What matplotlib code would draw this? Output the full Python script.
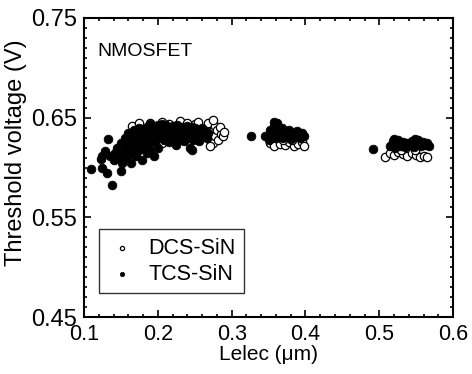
import matplotlib
matplotlib.use("Agg")
import matplotlib.pyplot as plt
from matplotlib.ticker import MultipleLocator

plt.rcParams['font.family'] = ['Liberation Sans', 'DejaVu Sans']

# TCS-SiN (filled)
tcs_x = [0.109, 0.124, 0.131, 0.138, 0.123, 0.129, 0.132, 0.150, 0.125, 0.135, 0.140,
         0.142, 0.145, 0.148, 0.150, 0.152, 0.153, 0.155, 0.157, 0.158, 0.160, 0.160,
         0.162, 0.163, 0.165, 0.166, 0.168, 0.170, 0.170, 0.172, 0.174, 0.175, 0.177,
         0.178, 0.180, 0.180,
         0.183, 0.185, 0.186, 0.188, 0.190, 0.191, 0.193, 0.195, 0.196, 0.198, 0.200,
         0.201, 0.203, 0.205, 0.206, 0.208, 0.210, 0.211, 0.213, 0.215, 0.216, 0.218,
         0.220, 0.221, 0.223, 0.225, 0.226, 0.228, 0.230, 0.231, 0.233, 0.235, 0.236,
         0.238, 0.240, 0.241, 0.243, 0.245, 0.246, 0.248, 0.250, 0.251, 0.253, 0.255,
         0.256, 0.258, 0.260, 0.262, 0.264, 0.266, 0.268,
         0.185, 0.190, 0.195, 0.200, 0.215, 0.225, 0.243, 0.246,
         0.326,
         0.345, 0.350, 0.352, 0.355, 0.358, 0.360, 0.362, 0.365, 0.368, 0.370, 0.372,
         0.375, 0.378, 0.380, 0.383, 0.385, 0.388, 0.390, 0.393, 0.395, 0.398, 0.357, 0.362,
         0.491,
         0.515, 0.518, 0.521, 0.523, 0.526, 0.529, 0.532, 0.535, 0.538, 0.541, 0.544,
         0.547, 0.550, 0.553, 0.556, 0.559, 0.562, 0.565, 0.568, 0.520, 0.548]
tcs_y = [0.599, 0.600, 0.595, 0.583, 0.609, 0.617, 0.629, 0.597, 0.612, 0.612, 0.608,
         0.615, 0.620, 0.610, 0.625, 0.605, 0.615, 0.630, 0.620, 0.610, 0.635, 0.625,
         0.615, 0.605, 0.630, 0.620, 0.638, 0.612, 0.625, 0.632, 0.618, 0.640, 0.628,
         0.608, 0.622, 0.636,
         0.630, 0.641, 0.624, 0.636, 0.644, 0.628, 0.634, 0.641, 0.626, 0.637, 0.643,
         0.630, 0.639, 0.634, 0.644, 0.628, 0.638, 0.643, 0.632, 0.640, 0.629, 0.636,
         0.642, 0.631, 0.638, 0.634, 0.643, 0.628, 0.637, 0.641, 0.632, 0.639, 0.627,
         0.635, 0.642, 0.630, 0.637, 0.633, 0.641, 0.628, 0.636, 0.640, 0.631, 0.638,
         0.627, 0.635, 0.640, 0.632, 0.637, 0.630, 0.635,
         0.615, 0.618, 0.612, 0.620, 0.626, 0.623, 0.620, 0.618,
         0.632,
         0.632, 0.628, 0.638, 0.634, 0.642, 0.630, 0.637, 0.633, 0.640, 0.630, 0.636,
         0.632, 0.638, 0.629, 0.635, 0.631, 0.637, 0.633, 0.630, 0.635, 0.632, 0.646, 0.645,
         0.619,
         0.622, 0.627, 0.620, 0.625, 0.628, 0.622, 0.626, 0.621, 0.625, 0.623, 0.627,
         0.621, 0.625, 0.628, 0.622, 0.626, 0.623, 0.625, 0.622, 0.629, 0.629]

# DCS-SiN (open)
dcs_x = [0.262, 0.265, 0.268, 0.270, 0.272, 0.275, 0.277, 0.278, 0.280, 0.282, 0.285,
         0.288, 0.275, 0.270, 0.284, 0.290,
         0.190, 0.205, 0.215, 0.230, 0.240, 0.250, 0.255,
         0.149, 0.165, 0.175, 0.199, 0.205, 0.160,
         0.352, 0.358, 0.365, 0.372, 0.378, 0.385, 0.390, 0.395, 0.398, 0.370, 0.382,
         0.508, 0.515, 0.520, 0.526, 0.532, 0.538, 0.544, 0.550, 0.555, 0.560, 0.565,
         0.530, 0.548]
dcs_y = [0.632, 0.640, 0.645, 0.628, 0.636, 0.625, 0.642, 0.632, 0.638, 0.628, 0.634,
         0.632, 0.648, 0.622, 0.641, 0.636,
         0.645, 0.646, 0.644, 0.647, 0.645, 0.644, 0.646,
         0.618, 0.642, 0.645, 0.625, 0.625, 0.614,
         0.625, 0.622, 0.624, 0.623, 0.626, 0.622, 0.624, 0.626, 0.622, 0.628, 0.628,
         0.611, 0.615, 0.613, 0.616, 0.614, 0.612, 0.615, 0.613, 0.611, 0.612, 0.611,
         0.618, 0.618]

x_ticks = [0.1, 0.2, 0.3, 0.4, 0.5, 0.6]
y_ticks = [0.45, 0.55, 0.65, 0.75]

fig = plt.figure(figsize=(4.72, 3.74), dpi=100)
ax = fig.add_axes([0.178, 0.152, 0.782, 0.800])

ax.scatter(dcs_x, dcs_y, s=36, facecolors='white', edgecolors='black', linewidths=0.9,
           label='DCS-SiN', zorder=2)
ax.scatter(tcs_x, tcs_y, s=40, facecolors='black', edgecolors='black', linewidths=0.5,
           label='TCS-SiN', zorder=3)

ax.set_xlim(0.1, 0.6)
ax.set_ylim(0.45, 0.75)
ax.set_xticks(x_ticks)
ax.set_xticklabels([f"{v:.1f}" for v in x_ticks])
ax.set_yticks(y_ticks)
ax.set_yticklabels([f"{v:.2f}" for v in y_ticks])
ax.xaxis.set_minor_locator(MultipleLocator(0.02))
ax.yaxis.set_minor_locator(MultipleLocator(0.01))
ax.tick_params(which='both', direction='in', top=True, right=True, width=1.2)
ax.tick_params(axis='x', labelsize=15.5)
ax.tick_params(axis='y', labelsize=17)
ax.tick_params(which='major', length=5, pad=5)
ax.tick_params(which='minor', length=2.5)
for s in ax.spines.values():
    s.set_linewidth(1.5)

ax.set_xlabel('Lelec (μm)', fontsize=15, labelpad=0)
ax.set_ylabel('Threshold voltage (V)', fontsize=17)
ax.yaxis.set_label_coords(-0.155, 0.55)
ax.text(0.035, 0.915, 'NMOSFET', transform=ax.transAxes, fontsize=14, va='top', ha='left')

leg = ax.legend(loc='lower left', bbox_to_anchor=(0.04, 0.08), fontsize=15.5,
                frameon=True, fancybox=False, edgecolor='black', markerscale=0.5,
                handletextpad=0.5, borderpad=0.4, labelspacing=0.22, handlelength=1.4,
                borderaxespad=0)
leg.get_frame().set_linewidth(1.0)

fig.savefig('out.png', dpi=100)
